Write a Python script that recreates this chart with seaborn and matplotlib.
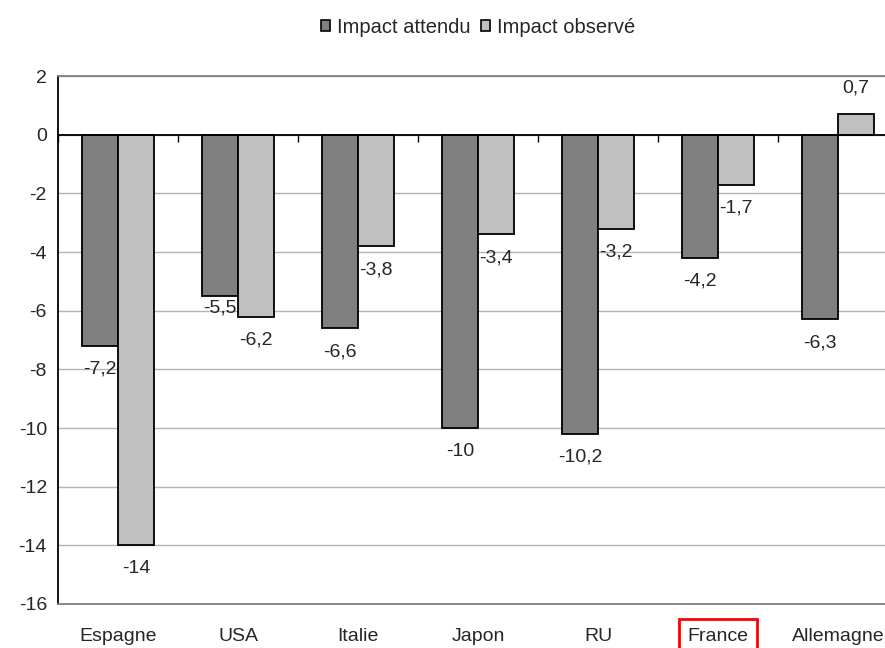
import numpy as np
import pandas as pd
import matplotlib
matplotlib.use("Agg")
import matplotlib.pyplot as plt
from matplotlib.patches import Patch
import seaborn as sns

# data
pays = ["Espagne", "USA", "Italie", "Japon", "RU", "France", "Allemagne"]
impact_attendu = [-7.2, -5.5, -6.6, -10.0, -10.2, -4.2, -6.3]
impact_observe = [-14.0, -6.2, -3.8, -3.4, -3.2, -1.7, 0.7]
series = ["Impact attendu", "Impact observé"]
y_ticks = list(range(-16, 3, 2))

df = pd.DataFrame({
    "pays": pays * 2,
    "serie": [series[0]] * len(pays) + [series[1]] * len(pays),
    "valeur": impact_attendu + impact_observe,
})

sns.set_style("white")
plt.rcParams["font.family"] = ["Liberation Sans", "DejaVu Sans"]
plt.rcParams["axes.unicode_minus"] = False

fig = plt.figure(figsize=(8.85, 6.48), dpi=100)
ax = fig.add_axes([58 / 885, 44 / 648, 1 - 58 / 885, 528 / 648])

colors = ["#808080", "#c0c0c0"]
sns.barplot(data=df, x="pays", y="valeur", hue="serie", hue_order=series,
            order=pays, palette=colors, width=0.6, edgecolor="black",
            linewidth=1.3, saturation=1, legend=False, ax=ax, zorder=3)

ax.set_ylim(-16, 2)
ax.set_xlim(-0.5, 6.39)
ax.set_yticks(y_ticks)
ax.set_yticklabels([str(t) for t in y_ticks], fontsize=14)
ax.set_xlabel("")
ax.set_ylabel("")
ax.grid(axis="y", color="#b3b3b3", linewidth=1, zorder=0)
ax.tick_params(axis="y", direction="out", length=5, width=1, color="black", pad=3)
ax.tick_params(axis="x", length=0, pad=17, labelsize=14)

ax.spines["right"].set_visible(False)
ax.spines["left"].set_color("black")
ax.spines["top"].set_color("#808080")
ax.spines["bottom"].set_color("#808080")
for s in ["left", "top", "bottom"]:
    ax.spines[s].set_linewidth(1.3)

# zero axis line with boundary ticks pointing down
ax.axhline(0, color="black", linewidth=1.3, zorder=3.5)
zero_ax = ax.secondary_xaxis(16 / 18)
zero_ax.set_xticks(np.arange(-0.5, len(pays), 1.0))
zero_ax.set_xticklabels([])
zero_ax.tick_params(direction="in", length=5, width=1, color="black")
for s in zero_ax.spines.values():
    s.set_visible(False)

# red box around France
for lbl in ax.get_xticklabels():
    if lbl.get_text() == "France":
        lbl.set_bbox(dict(facecolor="none", edgecolor="red", linewidth=2,
                          boxstyle="square,pad=0.45"))

# value labels
special_offset = {"-5,5": 8.5}
for cont, vals in zip(ax.containers, [impact_attendu, impact_observe]):
    for bar, v in zip(cont, vals):
        txt = f"{v:g}".replace(".", ",")
        x = bar.get_x() + bar.get_width() / 2
        if v >= 0:
            dy = 19
        else:
            dy = -special_offset.get(txt, 17)
        ax.annotate(txt, (x, v), xytext=(0, dy), textcoords="offset points",
                    ha="center", va="center", fontsize=14, zorder=4)

handles = [Patch(facecolor=c, edgecolor="black", linewidth=1.2) for c in colors]
fig.legend(handles, series, loc="center", bbox_to_anchor=(0.54, 0.958), ncol=2,
           frameon=False, fontsize=14.5, handlelength=0.45, handleheight=0.45,
           handletextpad=0.35, columnspacing=0.5)

fig.savefig("out.png", dpi=100)
